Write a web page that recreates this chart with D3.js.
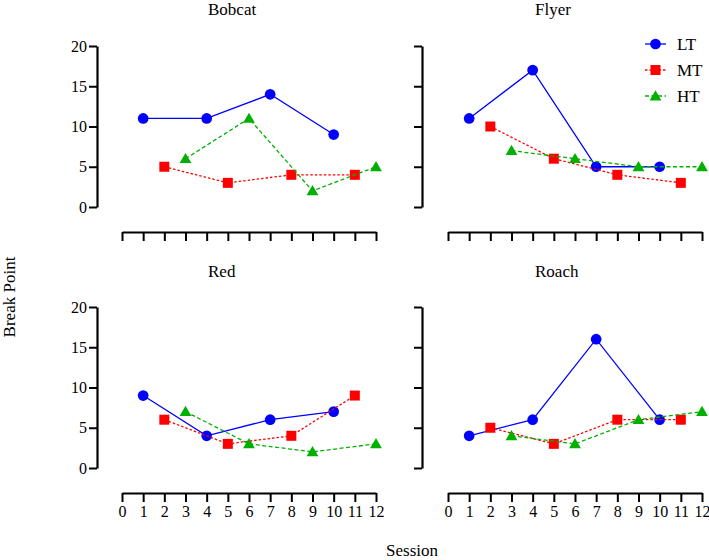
<!DOCTYPE html>
<html><head><meta charset="utf-8">
<script src="https://cdn.jsdelivr.net/npm/d3@7"></script>
<style>body{margin:0;background:#fff}svg{display:block}</style>
</head><body><svg id="c" width="709" height="560"></svg>
<script>
const panels = ["Bobcat", "Flyer", "Red", "Roach"];
const seriesNames = ["LT", "MT", "HT"];
const sessionsLT = [1, 4, 7, 10];
const sessionsMT = [2, 5, 8, 11];
const sessionsHT = [3, 6, 9, 12];
const bobcatLT = [11, 11, 14, 9];
const bobcatMT = [5, 3, 4, 4];
const bobcatHT = [6, 11, 2, 5];
const flyerLT = [11, 17, 5, 5];
const flyerMT = [10, 6, 4, 3];
const flyerHT = [7, 6, 5, 5];
const redLT = [9, 4, 6, 7];
const redMT = [6, 3, 4, 9];
const redHT = [7, 3, 2, 3];
const roachLT = [4, 6, 16, 6];
const roachMT = [5, 3, 6, 6];
const roachHT = [4, 3, 6, 7];
const yTicks = [0, 5, 10, 15, 20];
const xTicks = [0, 1, 2, 3, 4, 5, 6, 7, 8, 9, 10, 11, 12];

const FONT = "'Liberation Serif', 'Times New Roman', serif";

const values = {
  Bobcat: [bobcatLT, bobcatMT, bobcatHT],
  Flyer: [flyerLT, flyerMT, flyerHT],
  Red: [redLT, redMT, redHT],
  Roach: [roachLT, roachMT, roachHT]
};
const sessions = [sessionsLT, sessionsMT, sessionsHT];
const colors = ["#0000ff", "#ff0000", "#00b000"];
const dashes = [null, "2.5,2", "4,2.5"];
const symbols = [d3.symbolCircle, d3.symbolSquare, d3.symbolTriangle];
const symSizes = [90, 100, 60];

const layout = [
  {yAxisX: 97, x0: 122, x1: 376, yTop: 46, yBot: 207, xAxisY: 232, titleX: 208, titleY: 15, yLabels: true, xLabels: false},
  {yAxisX: 422, x0: 448, x1: 702, yTop: 46, yBot: 207, xAxisY: 232, titleX: 535, titleY: 15, yLabels: false, xLabels: false},
  {yAxisX: 97, x0: 122, x1: 376, yTop: 307, yBot: 468, xAxisY: 493, titleX: 208, titleY: 277, yLabels: true, xLabels: true},
  {yAxisX: 422, x0: 448, x1: 702, yTop: 307, yBot: 468, xAxisY: 493, titleX: 535, titleY: 277, yLabels: false, xLabels: true}
];

const svg = d3.select("#c");

panels.forEach((name, i) => {
  const L = layout[i];
  const x = d3.scaleLinear().domain([0, 12]).range([L.x0, L.x1]);
  const y = d3.scaleLinear().domain([0, 20]).range([L.yBot, L.yTop]);
  const g = svg.append("g");

  g.append("text").attr("x", L.titleX).attr("y", L.titleY).attr("font-family", FONT).attr("font-size", 17).text(name);

  const ya = g.append("g").attr("transform", `translate(${L.yAxisX},0)`)
    .call(d3.axisLeft(y).tickValues(yTicks).tickSizeInner(8).tickSizeOuter(0).tickPadding(2)
      .tickFormat(L.yLabels ? d3.format("d") : () => ""));
  const xa = g.append("g").attr("transform", `translate(0,${L.xAxisY})`)
    .call(d3.axisBottom(x).tickValues(xTicks).tickSizeInner(9).tickSizeOuter(0).tickPadding(4)
      .tickFormat(L.xLabels ? d3.format("d") : () => ""));
  [ya, xa].forEach(a => {
    a.attr("font-family", FONT).attr("font-size", 16);
    a.select(".domain").attr("stroke", "#000").attr("stroke-width", 2.2);
    a.selectAll(".tick line").attr("stroke", "#000").attr("stroke-width", 2);
    a.selectAll(".tick text").attr("fill", "#000");
  });

  values[name].forEach((vals, s) => {
    const pts = vals.map((v, k) => [sessions[s][k], v]);
    const line = d3.line().x(d => x(d[0])).y(d => y(d[1]));
    g.append("path").datum(pts).attr("d", line).attr("fill", "none")
      .attr("stroke", colors[s]).attr("stroke-width", 1.3)
      .attr("stroke-dasharray", dashes[s]);
    g.selectAll(null).data(pts).enter().append("path")
      .attr("transform", d => `translate(${x(d[0])},${y(d[1]) + (s === 2 ? 1 : 0)})`)
      .attr("d", d3.symbol().type(symbols[s]).size(symSizes[s]))
      .attr("fill", colors[s]);
  });
});

// legend
const legY = [44, 70, 96];
seriesNames.forEach((n, s) => {
  const lg = svg.append("g");
  lg.append("line").attr("x1", 645).attr("x2", 666).attr("y1", legY[s]).attr("y2", legY[s])
    .attr("stroke", colors[s]).attr("stroke-width", 1.3).attr("stroke-dasharray", dashes[s]);
  lg.append("path").attr("transform", `translate(655.5,${legY[s] + (s === 2 ? 1 : 0)})`)
    .attr("d", d3.symbol().type(symbols[s]).size(symSizes[s])).attr("fill", colors[s]);
  lg.append("text").attr("x", 677).attr("y", legY[s] + 6).attr("font-family", FONT).attr("font-size", 17).text(n);
});

svg.append("text").attr("transform", "translate(15,297) rotate(-90)").attr("text-anchor", "middle")
  .attr("font-family", FONT).attr("font-size", 17).text("Break Point");
svg.append("text").attr("x", 412).attr("y", 556).attr("text-anchor", "middle")
  .attr("font-family", FONT).attr("font-size", 17).text("Session");
</script></body></html>
